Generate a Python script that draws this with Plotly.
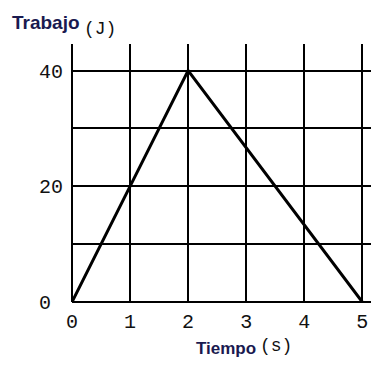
import plotly.graph_objects as go

# Data
tiempo = [0, 2, 5]
trabajo = [0, 40, 0]
x_tickvals = [0, 1, 2, 3, 4, 5]
x_ticktext = ["0", "1", "2", "3", "4", "5"]
y_tickvals = [0, 10, 20, 30, 40]
y_ticktext = ["0\u00a0", "", "20", "", "40"]

fig = go.Figure()
fig.add_trace(go.Scatter(x=tiempo, y=trabajo, mode="lines",
                         line=dict(color="black", width=3), showlegend=False,
                         cliponaxis=False))

tickfont = dict(family="Liberation Mono, DejaVu Sans Mono, monospace", size=20, color="#111")
boldfont = dict(family="Liberation Sans, Arial, sans-serif", size=19, color="#1a1a50")
boldfont2 = dict(family="Liberation Sans, Arial, sans-serif", size=17, color="#1a1a50")
monofont = dict(family="Liberation Mono, DejaVu Sans Mono, monospace", size=18, color="#111")

fig.update_layout(
    width=371, height=365,
    margin=dict(l=72, r=0, t=44, b=63, autoexpand=False),
    paper_bgcolor="white", plot_bgcolor="white",
    xaxis=dict(range=[0, 5.15], tickvals=x_tickvals, ticktext=x_ticktext,
               showgrid=True, gridcolor="black", gridwidth=1.5,
               zeroline=True, zerolinecolor="black", zerolinewidth=1.5,
               showline=False, ticks="", tickfont=tickfont, fixedrange=True,
               automargin=False, ticklabelstandoff=5),
    yaxis=dict(range=[0, 44.6], tickvals=y_tickvals, ticktext=y_ticktext,
               showgrid=True, gridcolor="black", gridwidth=1.5,
               zeroline=True, zerolinecolor="black", zerolinewidth=1.5,
               showline=False, ticks="", tickfont=tickfont, fixedrange=True,
               automargin=False, ticklabelstandoff=8),
    annotations=[
        dict(xref="paper", yref="paper", x=(14 - 72) / 299, y=1 + (44 - 22) / 258,
             xanchor="left", yanchor="middle", xshift=-4,
             text="<b>Trabajo</b>", showarrow=False, font=boldfont),
        dict(xref="paper", yref="paper", x=(86 - 72) / 299, y=1 + (44 - 29) / 258,
             xanchor="left", yanchor="middle", xshift=-4,
             text="(J)", showarrow=False, font=monofont),
        dict(xref="paper", yref="paper", x=(198 - 72) / 299, y=-(348 - 302) / 258,
             xanchor="left", yanchor="middle", xshift=-4,
             text="<b>Tiempo</b>", showarrow=False, font=boldfont2),
        dict(xref="paper", yref="paper", x=(262 - 72) / 299, y=-(346 - 302) / 258,
             xanchor="left", yanchor="middle", xshift=-4,
             text="(s)", showarrow=False, font=monofont),
    ],
)

fig.write_html("out.html", config={"displayModeBar": False},
               post_script="document.body.style.margin='0';")
